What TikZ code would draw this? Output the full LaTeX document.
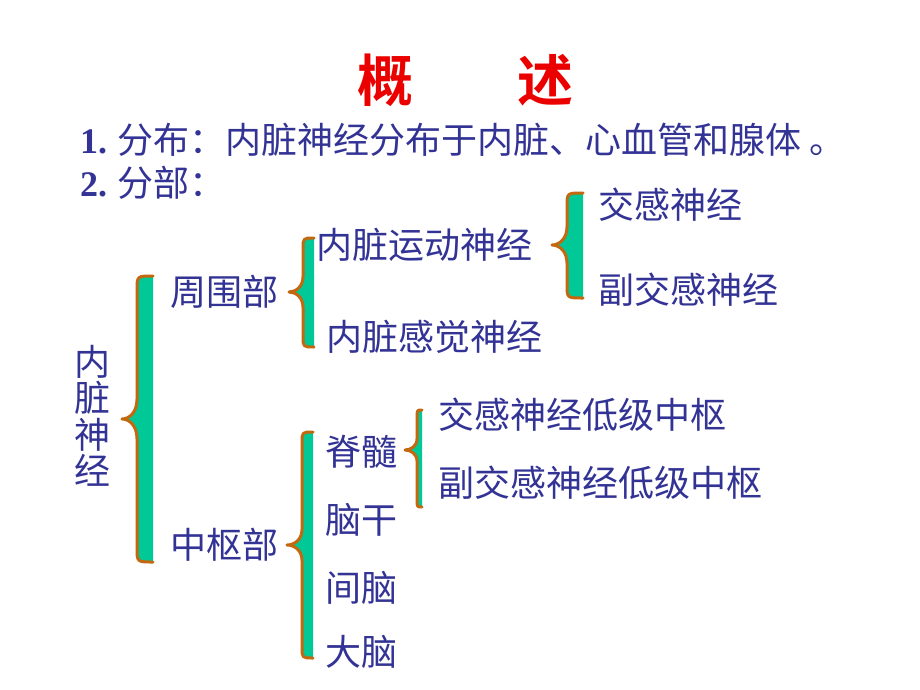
\documentclass[tikz,border=0pt]{standalone}
\usepackage{fontspec}
\setmainfont{Liberation Serif}
\newfontfamily\cjk{Noto Sans CJK SC}
\newfontfamily\cjkbold{Noto Sans CJK SC Bold}
\definecolor{navy}{RGB}{51,51,150}
\definecolor{bracefill}{RGB}{0,200,150}
\definecolor{braceline}{RGB}{196,104,16}
\definecolor{titlered}{RGB}{235,0,0}
% #1 tipx #2 tipy #3 leftx #4 rightx #5 top #6 bottom #7 radius
\newcommand\sketchbrace[7]{%
  \fill[bracefill] (#4,#5) .. controls (#3,#5) .. (#3,#5+#7) -- (#3,#2-1.4*#7)
    .. controls (#3,#2-0.5*#7) and (#3-0.5*#3+0.5*#1,#2) .. (#1,#2)
    .. controls (#3-0.5*#3+0.5*#1,#2) and (#3,#2+0.5*#7) .. (#3,#2+1.4*#7)
    -- (#3,#6-#7) .. controls (#3,#6) .. (#4,#6) -- cycle;
  \draw[braceline,line width=3pt,line cap=round,line join=round]
    (#4,#5) .. controls (#3,#5) .. (#3,#5+#7) -- (#3,#2-1.4*#7)
    .. controls (#3,#2-0.5*#7) and (#3-0.5*#3+0.5*#1,#2) .. (#1,#2)
    .. controls (#3-0.5*#3+0.5*#1,#2) and (#3,#2+0.5*#7) .. (#3,#2+1.4*#7)
    -- (#3,#6-#7) .. controls (#3,#6) .. (#4,#6);
}
\tikzset{
  txt/.style={anchor=west,inner sep=0pt,text=navy,font=\cjk\fontsize{36}{40}\selectfont},
  ttl/.style={inner sep=0pt,text=titlered,font=\cjkbold\fontsize{56}{60}\selectfont}
}
\begin{document}
\begin{tikzpicture}[x=1pt,y=-1pt]
\useasboundingbox (0,0) rectangle (920,690);
\fill[white] (0,0) rectangle (920,690);
\node[ttl] (t1) at (385,80) {概};
\node[ttl] (t2) at (545,80) {述};
\node[txt] (l1) at (80,140) {{\rmfamily\bfseries 1.} 分布：内脏神经分布于内脏、心血管和腺体 。};
\node[txt] (l2) at (80,183) {{\rmfamily\bfseries 2.} 分部：};
\node[txt,anchor=center,align=center,font=\cjk\fontsize{36}{36.5}\selectfont] (nz) at (92,416) {内\\脏\\神\\经};
\sketchbrace{122}{419}{137}{153}{276}{562}{14}
\node[txt] (zw) at (170,292) {周围部};
\node[txt] (zs) at (170,545) {中枢部};
\sketchbrace{289}{292}{303}{314}{238}{347}{11}
\node[txt] (yd) at (316,245) {内脏运动神经};
\node[txt] (gj) at (326,337) {内脏感觉神经};
\sketchbrace{552}{245}{567}{583}{193}{298}{13}
\node[txt] (jg) at (598,205) {交感神经};
\node[txt] (fj) at (598,290) {副交感神经};
\sketchbrace{287}{545}{302}{313}{432}{658}{11}
\node[txt] (js) at (325,452) {脊髓};
\node[txt] (ng) at (325,520) {脑干};
\node[txt] (jn) at (325,588) {间脑};
\node[txt] (dn) at (325,652) {大脑};
\sketchbrace{405}{450}{417}{422}{410}{507}{8}
\node[txt] (jz) at (438,415) {交感神经低级中枢};
\node[txt] (fz) at (438,483) {副交感神经低级中枢};
\end{tikzpicture}
\end{document}
